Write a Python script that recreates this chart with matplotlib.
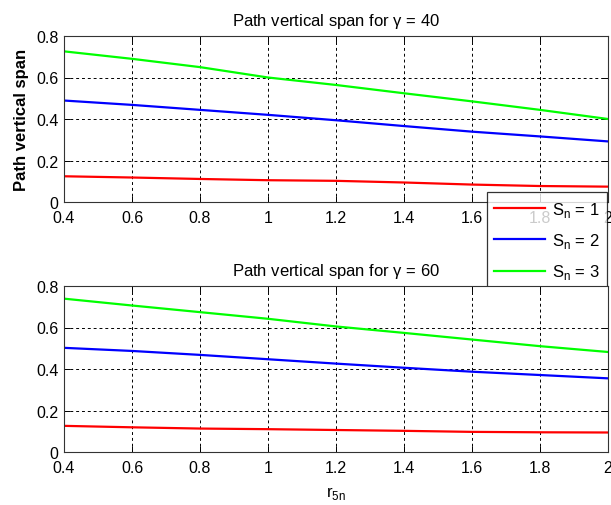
import numpy as np
import matplotlib
matplotlib.use("Agg")
import matplotlib.pyplot as plt

plt.rcParams["font.family"] = ["Liberation Sans", "DejaVu Sans"]

r5n = [0.4, 0.6, 0.8, 1.0, 1.2, 1.4, 1.6, 1.8, 2.0]

# gamma = 40
span40_s1 = [0.124, 0.118, 0.111, 0.105, 0.102, 0.094, 0.084, 0.077, 0.074]
span40_s2 = [0.489, 0.468, 0.444, 0.420, 0.394, 0.366, 0.339, 0.316, 0.292]
span40_s3 = [0.726, 0.690, 0.650, 0.600, 0.564, 0.524, 0.485, 0.444, 0.400]

# gamma = 60
span60_s1 = [0.126, 0.119, 0.113, 0.110, 0.106, 0.102, 0.097, 0.095, 0.094]
span60_s2 = [0.502, 0.487, 0.468, 0.447, 0.426, 0.406, 0.387, 0.371, 0.355]
span60_s3 = [0.739, 0.706, 0.674, 0.642, 0.605, 0.574, 0.542, 0.510, 0.482]

labels = [r"S$_\mathregular{n}$ = 1", r"S$_\mathregular{n}$ = 2", r"S$_\mathregular{n}$ = 3"]
colors = ["#ff0000", "#0000ff", "#00ff00"]


def style_axes(ax):
    ax.set_xlim(0.4, 2.0)
    ax.set_ylim(0, 0.8)
    ax.set_xticks(np.arange(0.4, 2.01, 0.2))
    ax.set_xticklabels(["0.4", "0.6", "0.8", "1", "1.2", "1.4", "1.6", "1.8", "2"])
    ax.set_yticks([0, 0.2, 0.4, 0.6, 0.8])
    ax.set_yticklabels(["0", "0.2", "0.4", "0.6", "0.8"])
    ax.grid(True, color="black", linestyle=(0, (3, 3)), linewidth=0.7)
    ax.tick_params(direction="in", top=True, right=True, labelsize=11.5,
                   length=4, width=0.7, pad=4)
    ax.tick_params(axis="x", pad=6)
    for sp in ax.spines.values():
        sp.set_linewidth(0.8)
        sp.set_color("#333333")


fig = plt.figure(figsize=(6.11, 5.06), dpi=100)
ax1 = fig.add_axes([64 / 611, 1 - 203 / 506, 544 / 611, 166 / 506])
ax2 = fig.add_axes([64 / 611, 1 - 453 / 506, 544 / 611, 166 / 506])

for ax, series, gamma in [(ax1, [span40_s1, span40_s2, span40_s3], 40),
                          (ax2, [span60_s1, span60_s2, span60_s3], 60)]:
    for ys, c, lab in zip(series, colors, labels):
        ax.plot(r5n, ys, color=c, linewidth=1.6, label=lab)
    style_axes(ax)
    ax.set_title(r"Path vertical span for $\mathregular{\gamma}$ = %d" % gamma,
                 fontsize=12, pad=8)

ax1.set_ylabel("Path vertical span", fontsize=12, fontweight="bold", labelpad=5)
ax2.set_xlabel(r"r$_\mathregular{5n}$", fontsize=12, labelpad=6)

leg = ax1.legend(loc="upper left", bbox_to_anchor=(487 / 611, 1 - 193 / 506),
                 bbox_transform=fig.transFigure, fontsize=12, frameon=True,
                 fancybox=False, edgecolor="black", handlelength=3.0,
                 borderpad=0.45, labelspacing=0.75, handletextpad=0.45,
                 borderaxespad=0)
leg.get_frame().set_linewidth(0.9)
leg.set_zorder(10)

fig.savefig("out.png", dpi=100)
